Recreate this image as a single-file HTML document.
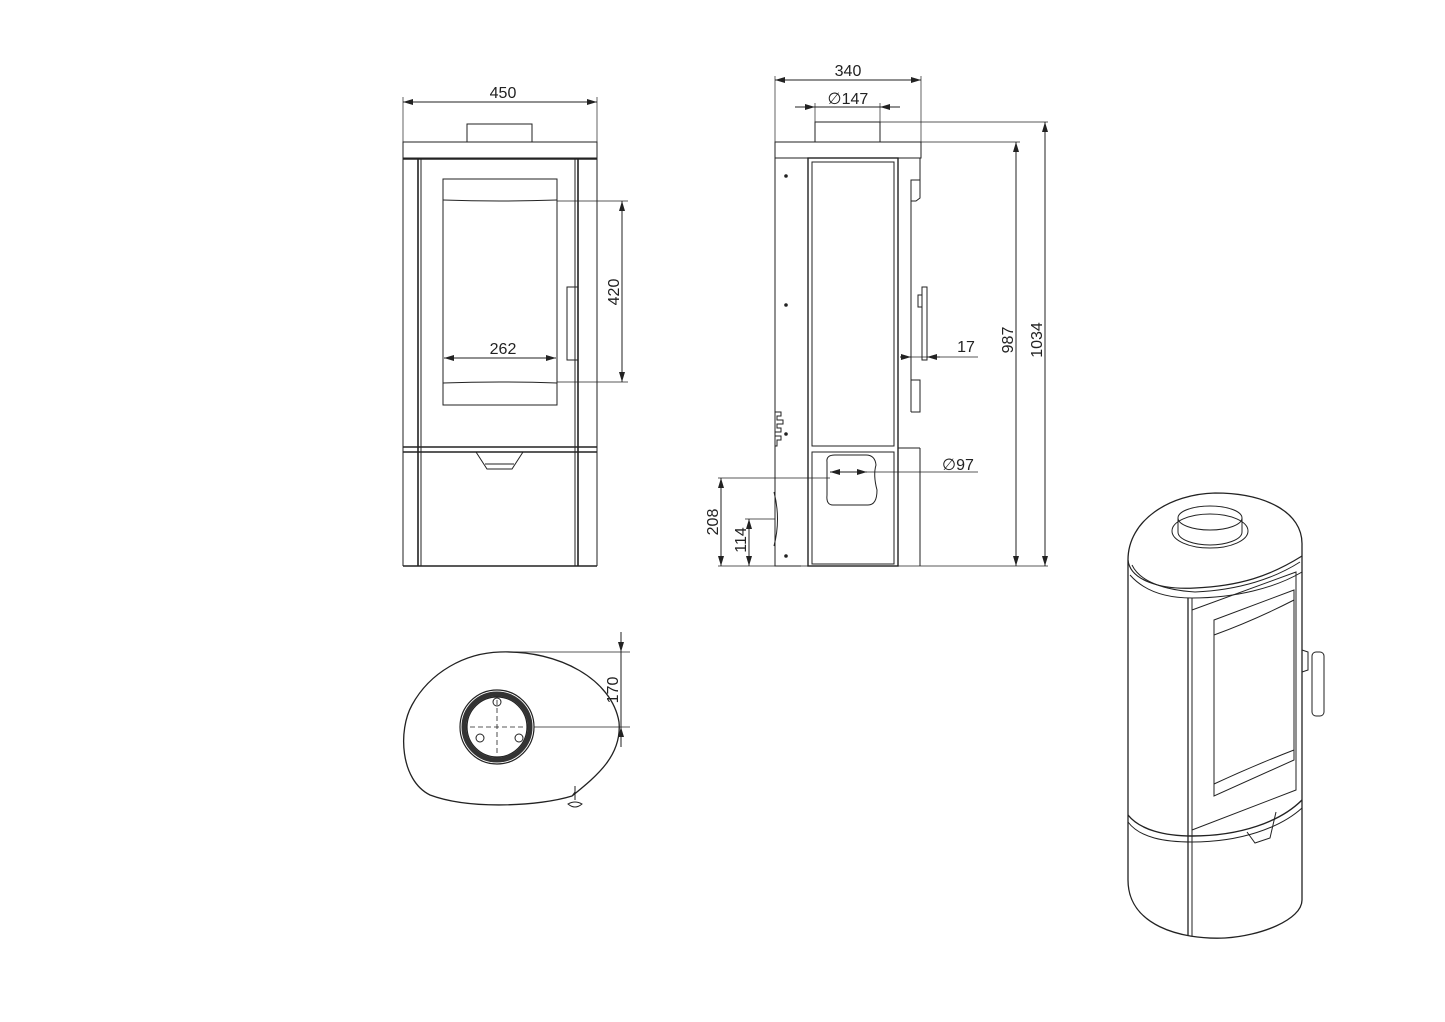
<!DOCTYPE html>
<html><head><meta charset="utf-8"><style>
html,body{margin:0;padding:0;background:#fff}
svg{display:block}
text{font-family:"Liberation Sans","DejaVu Sans",sans-serif;font-size:16px;fill:#222}
</style></head><body>
<svg width="1445" height="1022" viewBox="0 0 1445 1022" xmlns="http://www.w3.org/2000/svg">
<defs>
<marker id="a" viewBox="0 0 10 6" refX="10" refY="3" markerWidth="10" markerHeight="6" orient="auto-start-reverse" markerUnits="userSpaceOnUse"><path d="M0,0 L10,3 L0,6 z" fill="#222"/></marker>
</defs>
<g fill="none" stroke="#222" stroke-width="1">
<!-- FRONT VIEW -->
<line x1="403" y1="97" x2="403" y2="142" stroke-width="0.7"/>
<line x1="597" y1="97" x2="597" y2="142" stroke-width="0.7"/>
<line x1="403" y1="102" x2="597" y2="102" marker-start="url(#a)" marker-end="url(#a)"/>
<rect x="467" y="124" width="65" height="18"/>
<rect x="403" y="142" width="194" height="16"/>
<line x1="403" y1="158" x2="403" y2="566"/>
<line x1="597" y1="158" x2="597" y2="566"/>
<line x1="418" y1="158" x2="418" y2="566" stroke-width="1.6"/>
<line x1="421" y1="158" x2="421" y2="566"/>
<line x1="578" y1="158" x2="578" y2="566" stroke-width="1.6"/>
<line x1="575" y1="158" x2="575" y2="566"/>
<line x1="403" y1="159" x2="597" y2="159" stroke-width="1.6"/>
<rect x="443" y="179" width="114" height="226"/>
<path d="M443,200 Q500,202 557,200"/>
<path d="M443,383 Q500,381 557,383"/>
<line x1="403" y1="447" x2="597" y2="447" stroke-width="1.6"/>
<line x1="403" y1="452" x2="597" y2="452" stroke-width="1.6"/>
<path d="M476,452 L487,469 L512,469 L523,452"/>
<line x1="485" y1="464" x2="514" y2="464"/>
<rect x="567" y="287" width="11" height="73"/>
<line x1="403" y1="566" x2="597" y2="566" stroke-width="1.4"/>
<line x1="557" y1="201" x2="628" y2="201" stroke-width="0.7"/>
<line x1="557" y1="382" x2="628" y2="382" stroke-width="0.7"/>
<line x1="622" y1="201" x2="622" y2="382" marker-start="url(#a)" marker-end="url(#a)"/>
<line x1="444" y1="358" x2="556" y2="358" marker-start="url(#a)" marker-end="url(#a)"/>

<!-- SIDE VIEW -->
<line x1="775" y1="76" x2="775" y2="142" stroke-width="0.7"/>
<line x1="921" y1="76" x2="921" y2="142" stroke-width="0.7"/>
<line x1="775" y1="80" x2="921" y2="80" marker-start="url(#a)" marker-end="url(#a)"/>
<line x1="815" y1="103" x2="815" y2="124" stroke-width="0.7"/>
<line x1="880" y1="103" x2="880" y2="124" stroke-width="0.7"/>
<line x1="795" y1="107" x2="815" y2="107" marker-end="url(#a)"/>
<line x1="900" y1="107" x2="880" y2="107" marker-end="url(#a)"/>
<line x1="815" y1="107" x2="880" y2="107"/>
<rect x="815" y="122" width="65" height="20"/>
<rect x="775" y="142" width="146" height="16"/>
<path d="M775,158 V566 H801"/>
<rect x="808" y="158" width="90" height="408" stroke-width="1.4"/>
<rect x="812" y="162" width="82" height="284"/>
<rect x="812" y="452" width="82" height="112"/>
<line x1="898" y1="448" x2="920" y2="448"/>
<line x1="898" y1="158" x2="920" y2="158"/>
<line x1="920" y1="158" x2="920" y2="180"/>
<path d="M911,180 H920 V198 L916,201 H911 Z"/>
<line x1="911" y1="180" x2="911" y2="412"/>
<path d="M911,380 H920 V412 H911"/>
<line x1="920" y1="448" x2="920" y2="566"/>
<rect x="922" y="287" width="5" height="73"/>
<path d="M918,295 h4 v12 h-4z"/>
<path d="M775,412 h6 v4 h-4 v4 h6 v4 h-6 v4 h4 v4 h-6 v4 h6 v4 h-4 v6 h-2"/>
<circle cx="786" cy="176" r="1.3" fill="#222"/>
<circle cx="786" cy="305" r="1.3" fill="#222"/>
<circle cx="786" cy="434" r="1.3" fill="#222"/>
<circle cx="786" cy="556" r="1.3" fill="#222"/>
<path d="M774,492 Q781,519 774,546"/>
<path d="M827,462 Q826,455 835,455 H866 Q875,455 876,465 Q873,475 877,490 Q877,505 868,505 H833 Q826,505 827,495 Z"/>
<line x1="830" y1="472" x2="867" y2="472" marker-start="url(#a)" marker-end="url(#a)"/>
<line x1="867" y1="472" x2="978" y2="472" stroke-width="0.7"/>
<line x1="718" y1="478" x2="830" y2="478" stroke-width="0.7"/>
<line x1="745" y1="519" x2="775" y2="519" stroke-width="0.7"/>
<line x1="721" y1="478" x2="721" y2="566" marker-start="url(#a)" marker-end="url(#a)"/>
<line x1="749" y1="519" x2="749" y2="566" marker-start="url(#a)" marker-end="url(#a)"/>
<line x1="718" y1="566" x2="1048" y2="566" stroke-width="0.7"/>
<line x1="911" y1="357" x2="978" y2="357" stroke-width="0.7"/>
<line x1="900" y1="357" x2="911" y2="357" marker-end="url(#a)"/>
<line x1="940" y1="357" x2="927" y2="357" marker-end="url(#a)"/>
<line x1="880" y1="122" x2="1048" y2="122" stroke-width="0.7"/>
<line x1="921" y1="142" x2="1020" y2="142" stroke-width="0.7"/>
<line x1="1045" y1="122" x2="1045" y2="566" marker-start="url(#a)" marker-end="url(#a)"/>
<line x1="1016" y1="142" x2="1016" y2="566" marker-start="url(#a)" marker-end="url(#a)"/>

<!-- TOP VIEW -->
<path d="M500,652 C560,650 612,680 619,722 C622,755 598,775 572,796 C540,806 470,810 430,795 C400,780 398,730 412,705 C430,672 465,653 500,652 Z" stroke-width="1.3"/>
<path d="M572,796 L575,792 M575,786 V800" />
<path d="M568,804 Q575,800 582,804 Q575,810 568,804 Z"/>
<circle cx="497" cy="727" r="37" stroke-width="1.2"/>
<circle cx="497" cy="727" r="30" stroke-width="1.2"/>
<circle cx="497" cy="727" r="33" stroke-width="5" stroke="#333"/>
<circle cx="497" cy="702" r="4"/>
<circle cx="480" cy="738" r="4"/>
<circle cx="519" cy="738" r="4"/>
<line x1="470" y1="727" x2="526" y2="727" stroke-dasharray="5,3" stroke-width="0.8"/>
<line x1="497" y1="700" x2="497" y2="755" stroke-dasharray="5,3" stroke-width="0.8"/>
<line x1="500" y1="652" x2="630" y2="652" stroke-width="0.7"/>
<line x1="534" y1="727" x2="630" y2="727" stroke-width="0.7"/>
<line x1="621" y1="632" x2="621" y2="652" marker-end="url(#a)"/>
<line x1="621" y1="747" x2="621" y2="727" marker-end="url(#a)"/>
<line x1="621" y1="652" x2="621" y2="727"/>

<!-- ISOMETRIC -->
<path d="M1128,560 C1128,520 1170,494 1215,493 C1265,493 1303,512 1302,545 L1302,900 C1302,920 1260,936 1225,938 C1180,940 1128,925 1128,880 Z" stroke-width="1.3"/>
<path d="M1128,560 C1130,580 1160,590 1195,588 C1240,586 1270,576 1302,556" stroke-width="1.2"/>
<path d="M1132,565 C1140,582 1165,590 1195,592 C1240,590 1275,578 1300,562"/>
<path d="M1130,575 C1145,592 1168,598 1192,598 C1235,598 1275,588 1302,572"/>
<ellipse cx="1210" cy="518" rx="32" ry="12"/>
<path d="M1178,518 V532 C1178,540 1195,545 1210,545 C1225,545 1242,540 1242,532 V518"/>
<ellipse cx="1210" cy="531" rx="38" ry="17"/>
<line x1="1188" y1="598" x2="1188" y2="936" stroke-width="1.3"/>
<line x1="1192" y1="598" x2="1192" y2="936"/>
<path d="M1192,610 L1296,572 L1296,790 L1192,830"/>
<path d="M1214,620 L1294,590 L1294,760 L1214,796 Z"/>
<path d="M1214,635 Q1255,620 1294,600"/>
<path d="M1214,784 Q1255,765 1294,750"/>
<path d="M1128,815 C1140,830 1165,836 1192,836 C1240,836 1280,822 1302,800" stroke-width="1.4"/>
<path d="M1128,822 C1140,838 1165,842 1192,842 C1240,842 1280,828 1302,808"/>
<path d="M1247,832 L1255,843 L1270,838 L1276,812"/>
<rect x="1312" y="652" width="12" height="64" rx="4"/>
<path d="M1302,650 L1308,652 V670 L1302,672"/>
</g>
<g>
<text x="503" y="98" text-anchor="middle">450</text>
<text x="503" y="354" text-anchor="middle">262</text>
<text transform="translate(619,292) rotate(-90)" text-anchor="middle">420</text>
<text x="848" y="76" text-anchor="middle">340</text>
<text x="848" y="104" text-anchor="middle">∅147</text>
<text x="966" y="352" text-anchor="middle">17</text>
<text x="958" y="470" text-anchor="middle">∅97</text>
<text transform="translate(1013,340) rotate(-90)" text-anchor="middle">987</text>
<text transform="translate(1042,340) rotate(-90)" text-anchor="middle">1034</text>
<text transform="translate(718,522) rotate(-90)" text-anchor="middle">208</text>
<text transform="translate(746,540) rotate(-90)" text-anchor="middle">114</text>
<text transform="translate(618,690) rotate(-90)" text-anchor="middle">170</text>
</g>
</svg>
</body></html>
